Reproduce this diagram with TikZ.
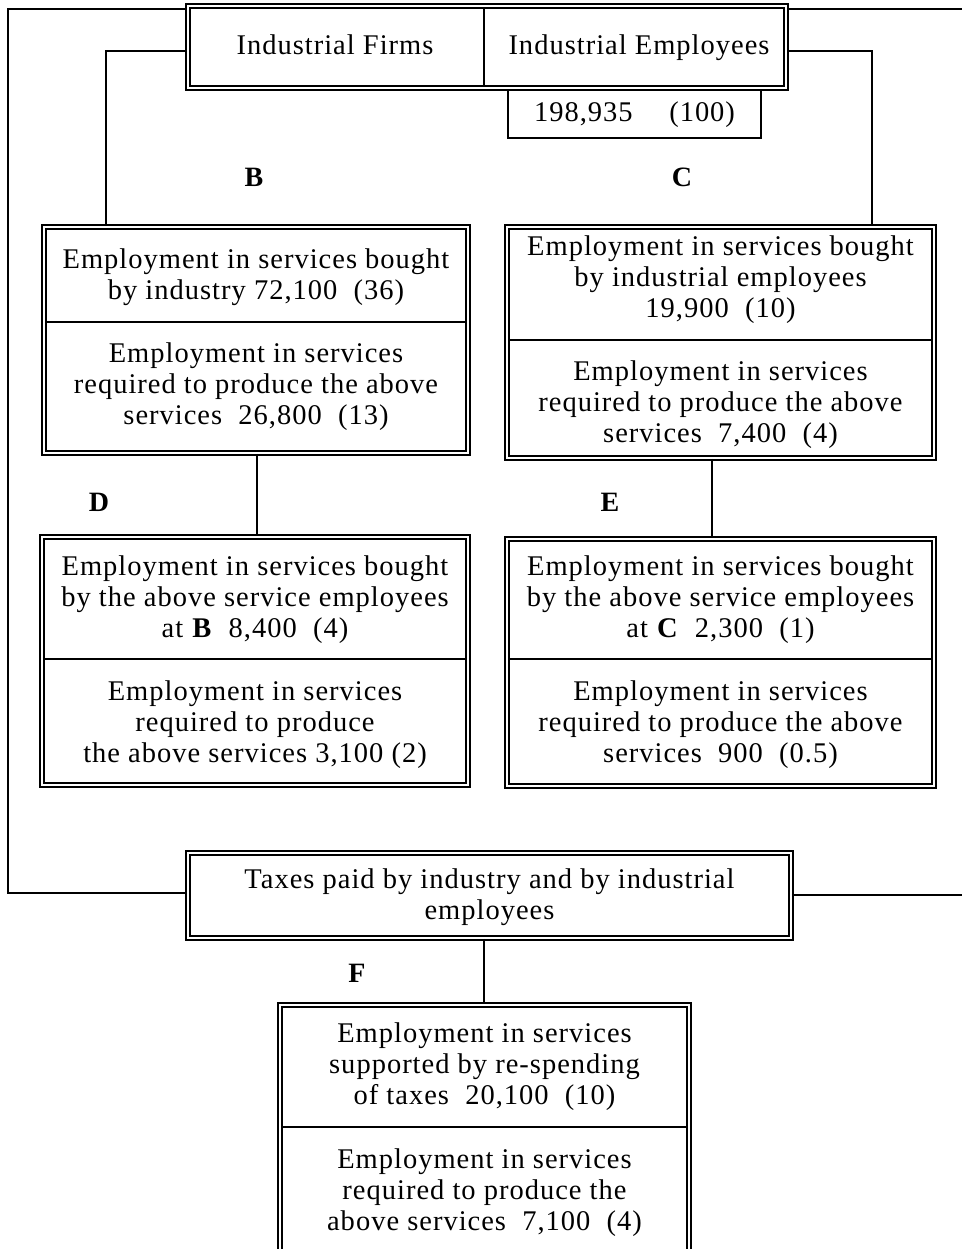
\documentclass[tikz,border=0pt]{standalone}
\usepackage{fontspec}
\setmainfont{Liberation Serif}[LetterSpace=3.5]
\begin{document}
\begin{tikzpicture}[x=1pt,y=-1pt,
  dbox/.style={draw, double, double distance=2.2pt, line width=1.6pt, inner sep=0pt, fill=white},
  sbox/.style={draw, line width=1.4pt, inner sep=0pt},
  conn/.style={draw, line width=1.4pt},
  divl/.style={draw, line width=1.4pt},
  txt/.style={align=center, inner sep=0pt, font=\fontsize{28.5}{31}\selectfont},
  btxt/.style={txt, yshift=-3pt},
  lab/.style={inner sep=0pt, font=\fontsize{28}{30}\selectfont\bfseries}]
\useasboundingbox (0,0) rectangle (961,1249);
\fill[white] (0,0) rectangle (961,1249);

% number box under top box
\node[sbox, minimum width=253pt, minimum height=50pt] (N) at (634.5,113) {};
\node[txt, anchor=base] (Nt) at (634.5,122) {198,935\quad\ (100)};

% top box
\node[dbox, minimum width=598pt, minimum height=82pt] (T) at (487,47) {};
\draw[divl] (484,8) -- (484,86);
\node[txt, anchor=base] (T1) at (335,55) {Industrial Firms};
\node[txt, anchor=base] (T2) at (639,55) {Industrial Employees};

% B box
\node[dbox, minimum width=424pt, minimum height=226pt] (B) at (256,340) {};
\draw[divl] (46,322) -- (466,322);
\node[btxt] (B1) at (256,274.5) {Employment in services bought\\by industry 72,100\ \ (36)};
\node[btxt] (B2) at (256,384) {Employment in services\\required to produce the above\\services\ \ 26,800\ \ (13)};

% C box
\node[dbox, minimum width=427pt, minimum height=231pt] (C) at (720.5,342.5) {};
\draw[divl] (509,340) -- (932,340);
\node[btxt] (C1) at (720.5,277) {Employment in services bought\\by industrial employees\\19,900\ \ (10)};
\node[btxt] (C2) at (720.5,402) {Employment in services\\required to produce the above\\services\ \ 7,400\ \ (4)};

% D box
\node[dbox, minimum width=426pt, minimum height=248pt] (D) at (255,661) {};
\draw[divl] (44,659) -- (466,659);
\node[btxt] (D1) at (255,597) {Employment in services bought\\by the above service employees\\at \textbf{B}\ \ 8,400\ \ (4)};
\node[btxt] (D2) at (255,722) {Employment in services\\required to produce\\the above services 3,100 (2)};

% E box
\node[dbox, minimum width=427pt, minimum height=247pt] (E) at (720.5,662.5) {};
\draw[divl] (509,659) -- (932,659);
\node[btxt] (E1) at (720.5,597) {Employment in services bought\\by the above service employees\\at \textbf{C}\ \ 2,300\ \ (1)};
\node[btxt] (E2) at (720.5,722) {Employment in services\\required to produce the above\\services\ \ 900\ \ (0.5)};

% Taxes box
\node[dbox, minimum width=603pt, minimum height=85pt] (X) at (489.5,895.5) {};
\node[btxt] (Xt) at (489.5,894.5) {Taxes paid by industry and by industrial\\employees};

% F box
\node[dbox, minimum width=409pt, minimum height=251pt] (F) at (484.5,1130.5) {};
\draw[divl] (282,1127) -- (687,1127);
\node[btxt] (F1) at (484.5,1064) {Employment in services\\supported by re-spending\\of taxes\ \ 20,100\ \ (10)};
\node[btxt] (F2) at (484.5,1190) {Employment in services\\required to produce the\\above services\ \ 7,100\ \ (4)};

% labels
\node[lab] (LB) at (254,177) {B};
\node[lab] (LC) at (682,177) {C};
\node[lab] (LD) at (99,502) {D};
\node[lab] (LE) at (610,502) {E};
\node[lab] (LF) at (357,973) {F};

% connectors
\coordinate (R1) at (965,9);
\coordinate (R2) at (965,895);
\draw[conn] (X.west |- 0,893) -| (8,9) -- (T.west |- 0,9);
\draw[conn] (T.east |- R1) -- (R1);
\draw[conn] (X.east |- R2) -- (R2);
\draw[conn] (T.west |- 0,51) -| (B.north -| 106,0);
\draw[conn] (T.east |- 0,51) -| (C.north -| 872,0);
\draw[conn] (B.south -| 257,0) -- (D.north -| 257,0);
\draw[conn] (C.south -| 712,0) -- (E.north -| 712,0);
\draw[conn] (X.south -| 484,0) -- (F.north -| 484,0);
\end{tikzpicture}
\end{document}
